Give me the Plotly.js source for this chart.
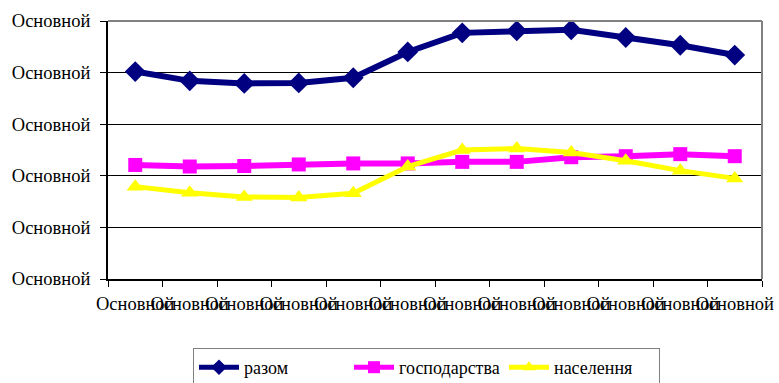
<!DOCTYPE html>
<html>
<head>
<meta charset="utf-8">
<script src="https://cdn.plot.ly/plotly-3.0.1.min.js"></script>
<style>html,body{margin:0;padding:0;background:#fff;}#chart{width:779px;height:383px;}</style>
</head>
<body>
<div id="chart"></div>
<script>
var categories = ["c1","c2","c3","c4","c5","c6","c7","c8","c9","c10","c11","c12"];
var xTickLabels = ["Основной","Основной","Основной","Основной","Основной","Основной","Основной","Основной","Основной","Основной","Основной","Основной"];
var yTickValues = [0,1,2,3,4,5];
var yTickLabels = ["Основной","Основной","Основной","Основной","Основной","Основной"];
var seriesNames = ["разом","господарства","населення"];
var razom = [4.02,3.84,3.79,3.80,3.90,4.40,4.77,4.81,4.83,4.68,4.53,4.34];
var hospodarstva = [2.21,2.18,2.19,2.22,2.24,2.24,2.27,2.27,2.36,2.38,2.42,2.38];
var naselennia = [1.79,1.67,1.59,1.58,1.66,2.18,2.50,2.53,2.45,2.29,2.10,1.95];

var fontFamily = "Liberation Serif";
var traces = [
  {x: categories, y: razom, name: seriesNames[0], type: "scatter", mode: "lines+markers",
   line: {color: "#000080", width: 6}, marker: {symbol: "diamond", size: 16, color: "#000080"}},
  {x: categories, y: hospodarstva, name: seriesNames[1], type: "scatter", mode: "lines+markers",
   line: {color: "#FF00FF", width: 6}, marker: {symbol: "square", size: 14, color: "#FF00FF"}},
  {x: categories, y: naselennia, name: seriesNames[2], type: "scatter", mode: "lines+markers",
   line: {color: "#FFFF00", width: 5}, marker: {symbol: "triangle-up", size: 15, color: "#FFFF00"}}
];
var layout = {
  width: 779, height: 383,
  margin: {l: 108, r: 17, t: 21, b: 104},
  paper_bgcolor: "#fff", plot_bgcolor: "#fff",
  font: {family: fontFamily, size: 18.5, color: "#000"},
  showlegend: true,
  legend: {orientation: "h", xref: "paper", x: 0.487, xanchor: "center",
           yref: "container", y: 0.0914, yanchor: "top",
           bordercolor: "#808080", borderwidth: 1, font: {family: fontFamily, size: 18, color: "#000"},
           itemwidth: 40, entrywidth: 100, traceorder: "normal", itemsizing: "constant"},
  xaxis: {type: "category", range: [-0.5, 11.5], tickmode: "array", tickvals: categories, ticktext: xTickLabels,
          tickson: "boundaries", ticks: "outside", ticklen: 6, tickcolor: "#000", tickwidth: 1,
          showline: true, linecolor: "#000", linewidth: 2, showgrid: false, zeroline: false,
          ticklabelstandoff: 7,
          tickangle: 0, tickfont: {family: fontFamily, size: 18.5, color: "#000"}, automargin: false},
  yaxis: {range: [0, 5], tickmode: "array", tickvals: yTickValues, ticktext: yTickLabels,
          ticks: "outside", ticklen: 6, tickcolor: "#000", tickwidth: 1,
          showline: true, linecolor: "#000", linewidth: 2, showgrid: true, gridcolor: "#000", gridwidth: 1,
          ticklabelstandoff: 6,
          zeroline: false, tickfont: {family: fontFamily, size: 18.5, color: "#000"}, automargin: false},
  shapes: [
    {type: "line", xref: "paper", yref: "paper", x0: 0, x1: 1, y0: 1, y1: 1, line: {color: "#808080", width: 2}, layer: "above"},
    {type: "line", xref: "paper", yref: "paper", x0: 1, x1: 1, y0: 0, y1: 1, line: {color: "#808080", width: 2}, layer: "above"}
  ]
};
Plotly.newPlot("chart", traces, layout, {displayModeBar: false, staticPlot: true});
</script>
</body>
</html>
